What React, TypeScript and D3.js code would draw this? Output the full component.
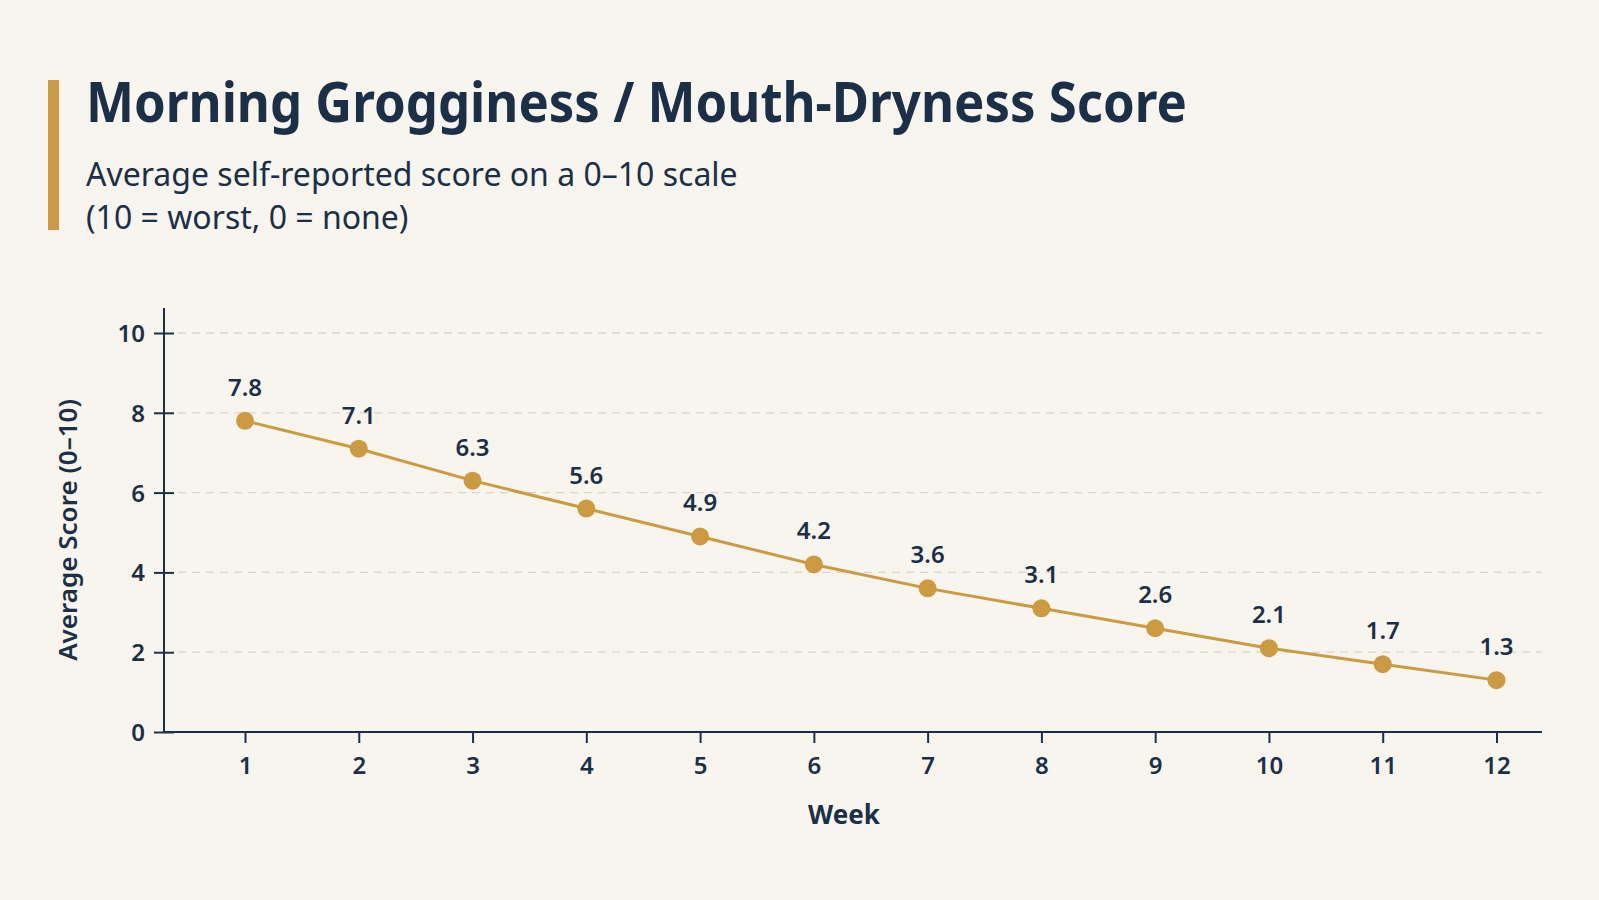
import { useRef, useEffect } from 'react';
import * as d3 from 'd3';

const weeks = [1, 2, 3, 4, 5, 6, 7, 8, 9, 10, 11, 12];
const scores = [7.8, 7.1, 6.3, 5.6, 4.9, 4.2, 3.6, 3.1, 2.6, 2.1, 1.7, 1.3];
const yTicks = [0, 2, 4, 6, 8, 10];

const NAVY = '#1b3048';
const GOLD = '#cc9a40';
const BG = '#f8f5ee';

const App = () => {
  const svgRef = useRef<SVGSVGElement>(null);

  useEffect(() => {
    document.body.style.margin = '0';
    const svg = d3.select(svgRef.current);
    svg.selectAll('*').remove();

    const W = 1599, H = 900;
    const left = 164, right = 1542, top = 333, bottom = 732;

    svg.append('rect').attr('width', W).attr('height', H).attr('fill', BG);

    // title block
    svg.append('rect')
      .attr('x', 48).attr('y', 80).attr('width', 11).attr('height', 150)
      .attr('fill', GOLD);
    svg.append('text')
      .attr('x', 86).attr('y', 122)
      .attr('font-family', 'Noto Sans').attr('font-weight', 700)
      .attr('font-size', 55).attr('fill', NAVY)
      .attr('textLength', 1101).attr('lengthAdjust', 'spacingAndGlyphs')
      .text('Morning Grogginess / Mouth-Dryness Score');
    svg.append('text')
      .attr('x', 86).attr('y', 186)
      .attr('font-family', 'Noto Sans').attr('font-size', 32).attr('fill', NAVY)
      .text('Average self-reported score on a 0–10 scale');
    svg.append('text')
      .attr('x', 86).attr('y', 229)
      .attr('font-family', 'Noto Sans').attr('font-size', 32).attr('fill', NAVY)
      .text('(10 = worst, 0 = none)');

    const x = d3.scaleLinear().domain([0.288, 12.4]).range([left, right]);
    const y = d3.scaleLinear().domain([0, 10]).range([bottom, top]);

    // grid
    svg.append('g')
      .selectAll('line')
      .data(yTicks.filter(d => d > 0))
      .enter().append('line')
      .attr('x1', left + 14).attr('x2', right)
      .attr('y1', d => y(d)).attr('y2', d => y(d))
      .attr('stroke', '#d9d5cc').attr('stroke-width', 1.3)
      .attr('stroke-dasharray', '8,6');

    // y axis
    const yAxis = svg.append('g')
      .attr('transform', `translate(${left},0)`)
      .call(d3.axisLeft(y).tickValues(yTicks).tickSize(10).tickPadding(10));
    yAxis.select('.domain').remove();
    yAxis.selectAll('.tick line').attr('x2', 10).attr('x1', -10).attr('stroke', NAVY).attr('stroke-width', 2);
    yAxis.append('line')
      .attr('x1', 0).attr('x2', 0).attr('y1', 308).attr('y2', bottom)
      .attr('stroke', NAVY).attr('stroke-width', 2);
    yAxis.selectAll('.tick text')
      .attr('font-family', 'Noto Sans').attr('font-weight', 600)
      .attr('font-size', 24).attr('fill', NAVY)
      .attr('x', -19).attr('dy', '0.35em');

    // x axis
    const xAxis = svg.append('g')
      .attr('transform', `translate(0,${bottom})`)
      .call(d3.axisBottom(x).tickValues(weeks).tickFormat(d3.format('d')).tickSize(11).tickPadding(14));
    xAxis.select('.domain').remove();
    xAxis.append('line')
      .attr('x1', left).attr('x2', right).attr('y1', 0).attr('y2', 0)
      .attr('stroke', NAVY).attr('stroke-width', 2);
    xAxis.selectAll('.tick line').attr('stroke', NAVY).attr('stroke-width', 2);
    xAxis.selectAll('.tick text')
      .attr('font-family', 'Noto Sans').attr('font-weight', 600)
      .attr('font-size', 24).attr('fill', NAVY);

    // axis titles
    svg.append('text')
      .attr('transform', `translate(77,530) rotate(-90)`)
      .attr('text-anchor', 'middle')
      .attr('font-family', 'Noto Sans').attr('font-weight', 600)
      .attr('font-size', 26).attr('fill', NAVY)
      .text('Average Score (0–10)');
    svg.append('text')
      .attr('x', 844).attr('y', 824)
      .attr('text-anchor', 'middle')
      .attr('font-family', 'Noto Sans').attr('font-weight', 700)
      .attr('font-size', 26).attr('fill', NAVY)
      .text('Week');

    const data = weeks.map((w, i) => ({ week: w, score: scores[i] }));

    const line = d3.line<{ week: number; score: number }>()
      .x(d => x(d.week))
      .y(d => y(d.score));

    svg.append('path')
      .datum(data)
      .attr('d', line)
      .attr('fill', 'none')
      .attr('stroke', GOLD)
      .attr('stroke-width', 3);

    svg.append('g')
      .selectAll('circle')
      .data(data)
      .enter().append('circle')
      .attr('cx', d => x(d.week))
      .attr('cy', d => y(d.score))
      .attr('r', 9)
      .attr('fill', GOLD);

    svg.append('g')
      .selectAll('text')
      .data(data)
      .enter().append('text')
      .attr('x', d => x(d.week))
      .attr('y', d => y(d.score) - 25)
      .attr('text-anchor', 'middle')
      .attr('font-family', 'Noto Sans').attr('font-weight', 600)
      .attr('font-size', 24).attr('fill', NAVY)
      .text(d => d.score.toFixed(1));
  }, []);

  return <svg ref={svgRef} width={1599} height={900} style={{ display: 'block' }}></svg>;
};

export default App;
